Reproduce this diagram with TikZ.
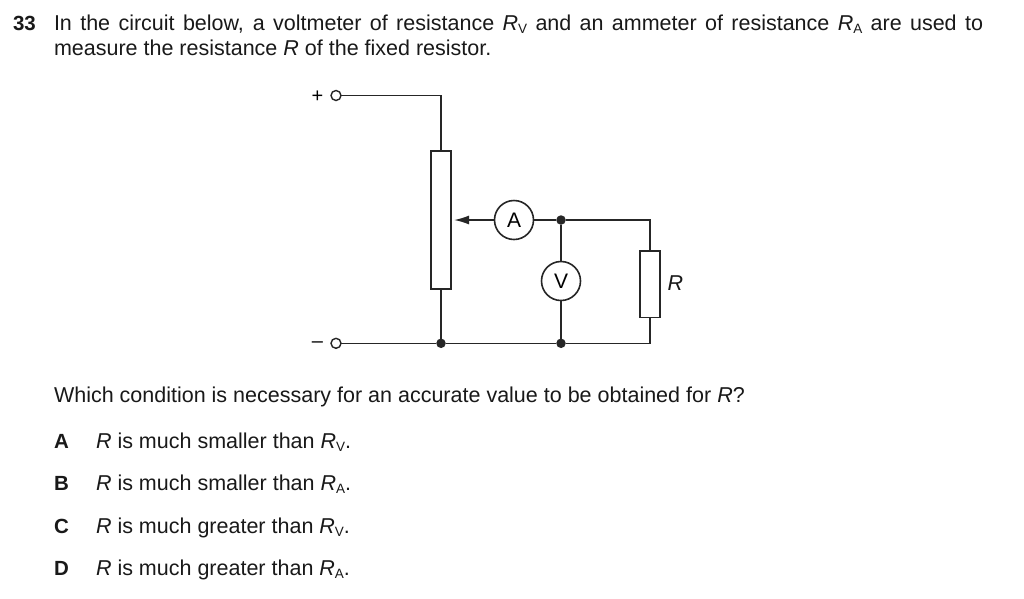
\documentclass[tikz,border=0pt]{standalone}
\usepackage{fontspec}
\setmainfont{Liberation Sans}
\usetikzlibrary{arrows.meta}
\newcommand{\sbs}[1]{\raisebox{-0.15em}{\fontsize{13.5}{15}\selectfont #1}}
\newcommand{\RV}{\textit{R}\sbs{V}}
\newcommand{\RA}{\textit{R}\sbs{A}}
\tikzset{
  txt/.style={anchor=base west,inner sep=0pt,outer sep=0pt,font=\fontsize{21.5}{24}\selectfont,text=black!90},
  boldtxt/.style={txt,font=\fontsize{20.5}{24}\selectfont\bfseries},
  wire/.style={line width=1.6pt,draw=black!85},
  res/.style={draw=black!85,line width=1.6pt,fill=white,minimum width=20pt,inner sep=0pt,outer sep=0pt},
  meter/.style={circle,draw=black!85,line width=1.6pt,fill=white,minimum size=39pt,inner sep=0pt,outer sep=0pt,font=\fontsize{21}{24}\selectfont},
  term/.style={circle,draw=black!85,line width=1.4pt,fill=white,minimum size=10pt,inner sep=0pt,outer sep=0pt},
  junc/.style={circle,fill=black!85,minimum size=9.5pt,inner sep=0pt,outer sep=0pt},
}
\begin{document}
\begin{tikzpicture}[x=1pt,y=-1pt]
\useasboundingbox[fill=white] (0,0) rectangle (1024,598);
% text
\node[boldtxt] (qn) at (13,30) {33};
\node[txt] (l1) at (54,30) {\hbox to 929pt{In the circuit below, a voltmeter of resistance \RV\ and an ammeter of resistance \RA\ are used to}};
\node[txt] (l2) at (54,55.5) {measure the resistance \textit{R} of the fixed resistor.};
\node[txt] (q) at (54,402.5) {Which condition is necessary for an accurate value to be obtained for \textit{R}?};
\node[boldtxt] (la) at (54,448.5) {A};
\node[txt] (ta) at (96,448.5) {\textit{R} is much smaller than \RV.};
\node[boldtxt] (lb) at (54,490.5) {B};
\node[txt] (tb) at (96,490.5) {\textit{R} is much smaller than \RA.};
\node[boldtxt] (lc) at (54,533.5) {C};
\node[txt] (tc) at (96,533.5) {\textit{R} is much greater than \RV.};
\node[boldtxt] (ld) at (54,575.5) {D};
\node[txt] (td) at (96,575.5) {\textit{R} is much greater than \RA.};
% circuit nodes
\node[term] (tp) at (336,95.5) {};
\node[term] (tm) at (336,343.3) {};
\node[anchor=center,inner sep=0pt,font=\fontsize{20}{22}\selectfont] (plus) at (317.5,96.5) {+};
\node[anchor=center,inner sep=0pt,font=\fontsize{20}{22}\selectfont] (minus) at (317.5,345) {–};
\node[res,minimum height=138pt] (rv) at (441,219.7) {};
\node[res,minimum height=66.5pt] (rf) at (650,284.2) {};
\node[meter] (am) at (514,220) {A};
\node[meter] (vm) at (561,281) {V};
\node[junc] (j1) at (561,220) {};
\node[junc] (j2) at (441,343.3) {};
\node[junc] (j3) at (561,343.3) {};
\coordinate (c1) at (441,95.5);
\coordinate (c2) at (650,220);
\coordinate (c3) at (650,343.3);
\coordinate (tip) at (454,220);
\node[txt,anchor=center,font=\fontsize{21.5}{24}\selectfont\itshape] (rl) at (675.5,283.5) {R};
% wires
\draw[wire] (tp) -- (c1) -- (rv.north);
\draw[wire] (rv.south) -- (j2);
\draw[wire] (tm) -- (j2) -- (j3) -- (c3) -- (rf.south);
\draw[wire] (rf.north) -- (c2) -- (j1) -- (am);
\draw[wire] (j1) -- (vm);
\draw[wire] (vm) -- (j3);
\draw[wire,-{Latex[length=15pt,width=9pt]}] (am) -- (tip);
\end{tikzpicture}
\end{document}
